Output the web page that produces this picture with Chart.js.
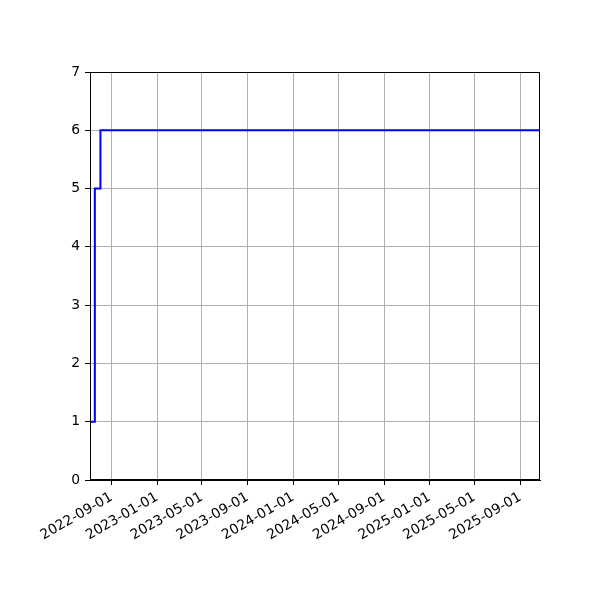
<!DOCTYPE html>
<html>
<head>
<meta charset="utf-8">
<script src="https://cdn.jsdelivr.net/npm/chart.js@4/dist/chart.umd.min.js"></script>
<style>
  html, body { margin: 0; padding: 0; background: #fff; }
</style>
</head>
<body>
<canvas id="chart" width="600" height="600"></canvas>
<script>
// step series
const dates = ['2022-07-05', '2022-07-18', '2022-08-02', '2025-10-24'];
const counts = [1, 5, 6, 6];
const xStart = '2022-07-05';
const xEnd = '2025-10-24';
const xTicks = ['2022-09-01', '2023-01-01', '2023-05-01', '2023-09-01', '2024-01-01',
                '2024-05-01', '2024-09-01', '2025-01-01', '2025-05-01', '2025-09-01'];
const yMin = 0, yMax = 7;

function ms(d) {
    const p = d.split('-');
    return Date.UTC(+p[0], +p[1] - 1, +p[2]);
}
function fmt(v) {
    const d = new Date(v);
    const m = String(d.getUTCMonth() + 1).padStart(2, '0');
    const day = String(d.getUTCDate()).padStart(2, '0');
    return d.getUTCFullYear() + '-' + m + '-' + day;
}

const points = dates.map((d, i) => ({ x: ms(d), y: counts[i] }));

// top and right spines
const frame = {
    id: 'frame',
    afterDraw(chart) {
        const a = chart.chartArea, c = chart.ctx;
        c.save();
        c.strokeStyle = '#000';
        c.lineWidth = 1;
        c.strokeRect(a.left + 0.5, a.top + 0.5, a.right - a.left - 1, a.bottom - a.top - 1);
        c.restore();
    }
};

const font = { family: 'DejaVu Sans', size: 13.9 };

new Chart(document.getElementById('chart').getContext('2d'), {
    type: 'line',
    data: {
        datasets: [{
            data: points,
            stepped: true,
            borderColor: '#0000ff',
            borderWidth: 2,
            pointRadius: 0,
            fill: false
        }]
    },
    options: {
        responsive: false,
        animation: false,
        devicePixelRatio: 1,
        layout: { padding: { top: 72, right: 60, left: 0, bottom: 0 } },
        plugins: { legend: { display: false }, tooltip: { enabled: false } },
        scales: {
            x: {
                type: 'linear',
                min: ms(xStart),
                max: ms(xEnd),
                afterBuildTicks(scale) {
                    scale.ticks = xTicks.map(t => ({ value: ms(t) }));
                },
                afterFit(scale) {
                    scale.height = 120;
                    scale.paddingLeft = 0;
                    scale.paddingRight = 0;
                },
                grid: { color: '#b0b0b0', lineWidth: 1, tickColor: '#000', tickLength: 5 },
                border: { color: '#000', width: 1 },
                ticks: {
                    autoSkip: false,
                    minRotation: 30,
                    maxRotation: 30,
                    padding: 4,
                    color: '#000',
                    font: font,
                    callback: v => fmt(v)
                }
            },
            y: {
                min: yMin,
                max: yMax,
                afterFit(scale) { scale.width = 90; },
                grid: { color: '#b0b0b0', lineWidth: 1, tickColor: '#000', tickLength: 5 },
                border: { color: '#000', width: 1 },
                ticks: { stepSize: 1, padding: 5, color: '#000', font: font }
            }
        }
    },
    plugins: [frame]
});
</script>
</body>
</html>
